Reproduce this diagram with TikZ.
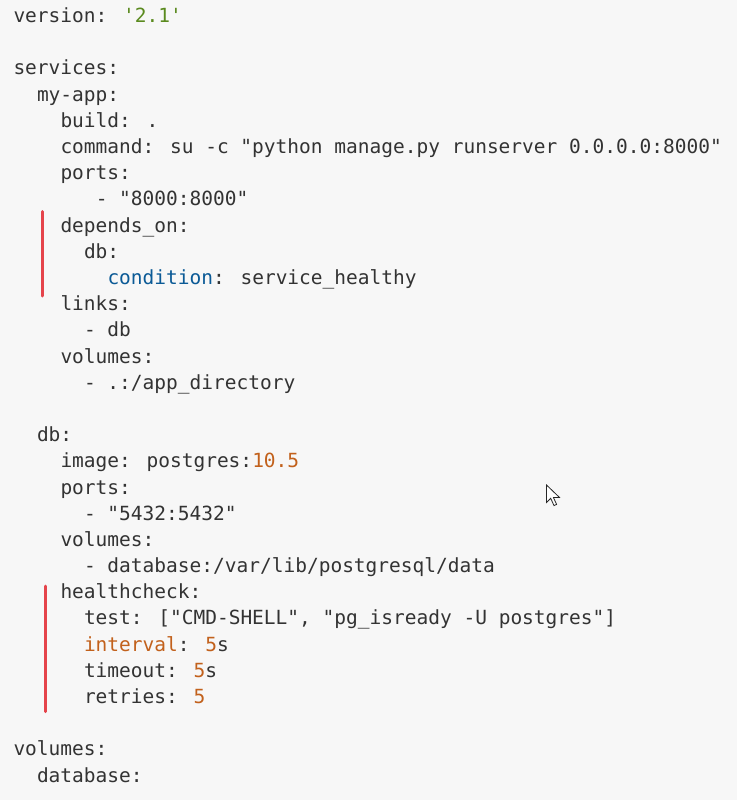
\documentclass[tikz,border=0pt]{standalone}
\usepackage{fontspec}
\newfontfamily\codefont{DejaVu Sans Mono}
\definecolor{bgc}{HTML}{F7F7F7}
\definecolor{keyc}{HTML}{333333}
\definecolor{strc}{HTML}{5A8A1E}
\definecolor{bluec}{HTML}{0B5A96}
\definecolor{numc}{HTML}{C2611C}
\definecolor{barc}{HTML}{E5444B}
\newcommand\gr[1]{\textcolor{strc}{#1}}
\newcommand\bl[1]{\textcolor{bluec}{#1}}
\newcommand\nm[1]{\textcolor{numc}{#1}}
\begin{document}
\begin{tikzpicture}[x=1pt,y=-1pt,
  codeline/.style={anchor=base west,inner sep=0pt,outer sep=0pt,
    font=\codefont\fontsize{19.5}{24}\selectfont,text=keyc},
  marker/.style={draw=barc,line width=3pt,line cap=round},
  pointer/.style={fill=white,draw=black!85,line width=0.8pt,line join=miter}]
\fill[bgc] (0,0) rectangle (737,800);
\useasboundingbox (0,0) rectangle (737,800);
\def\LA{13.5}\def\LB{37}\def\LC{60.5}\def\LD{84}\def\LE{95.75}
\def\yy#1{{22.6+#1*26.19}}
\node[codeline] (l0) at (\LA,\yy{0}) {version: \gr{'2.1'}};
\node[codeline] (l2) at (\LA,\yy{2}) {services:};
\node[codeline] (l3) at (\LB,\yy{3}) {my-app:};
\node[codeline] (l4) at (\LC,\yy{4}) {build: .};
\node[codeline] (l5) at (\LC,\yy{5}) {command: su -c "python manage.py runserver 0.0.0.0:8000"};
\node[codeline] (l6) at (\LC,\yy{6}) {ports:};
\node[codeline] (l7) at (\LE,\yy{7}) {- "8000:8000"};
\node[codeline] (l8) at (\LC,\yy{8}) {depends\_on:};
\node[codeline] (l9) at (\LD,\yy{9}) {db:};
\node[codeline] (l10) at ({\LD+23.5},\yy{10}) {\bl{condition}: service\_healthy};
\node[codeline] (l11) at (\LC,\yy{11}) {links:};
\node[codeline] (l12) at (\LD,\yy{12}) {- db};
\node[codeline] (l13) at (\LC,\yy{13}) {volumes:};
\node[codeline] (l14) at (\LD,\yy{14}) {- .:/app\_directory};
\node[codeline] (l16) at (\LB,\yy{16}) {db:};
\node[codeline] (l17) at (\LC,\yy{17}) {image: postgres:\nm{10.5}};
\node[codeline] (l18) at (\LC,\yy{18}) {ports:};
\node[codeline] (l19) at (\LD,\yy{19}) {- "5432:5432"};
\node[codeline] (l20) at (\LC,\yy{20}) {volumes:};
\node[codeline] (l21) at (\LD,\yy{21}) {- database:/var/lib/postgresql/data};
\node[codeline] (l22) at (\LC,\yy{22}) {healthcheck:};
\node[codeline] (l23) at (\LD,\yy{23}) {test: ["CMD-SHELL", "pg\_isready -U postgres"]};
\node[codeline] (l24) at (\LD,\yy{24}) {\nm{interval}: \nm{5}s};
\node[codeline] (l25) at (\LD,\yy{25}) {timeout: \nm{5}s};
\node[codeline] (l26) at (\LD,\yy{26}) {retries: \nm{5}};
\node[codeline] (l28) at (\LA,\yy{28}) {volumes:};
\node[codeline] (l29) at (\LB,\yy{29}) {database:};
% change markers
\draw[marker] (42.3,211.5) -- (42.3,296);
\draw[marker] (45,586) -- (45,711.5);
% mouse pointer
\draw[pointer] (546.5,485) -- ++(0,17.5) -- ++(4.2,-4.2) -- ++(3.3,7.3) -- ++(2.6,-1.2) -- ++(-3.2,-7) -- ++(6,0) -- cycle;
\end{tikzpicture}
\end{document}
